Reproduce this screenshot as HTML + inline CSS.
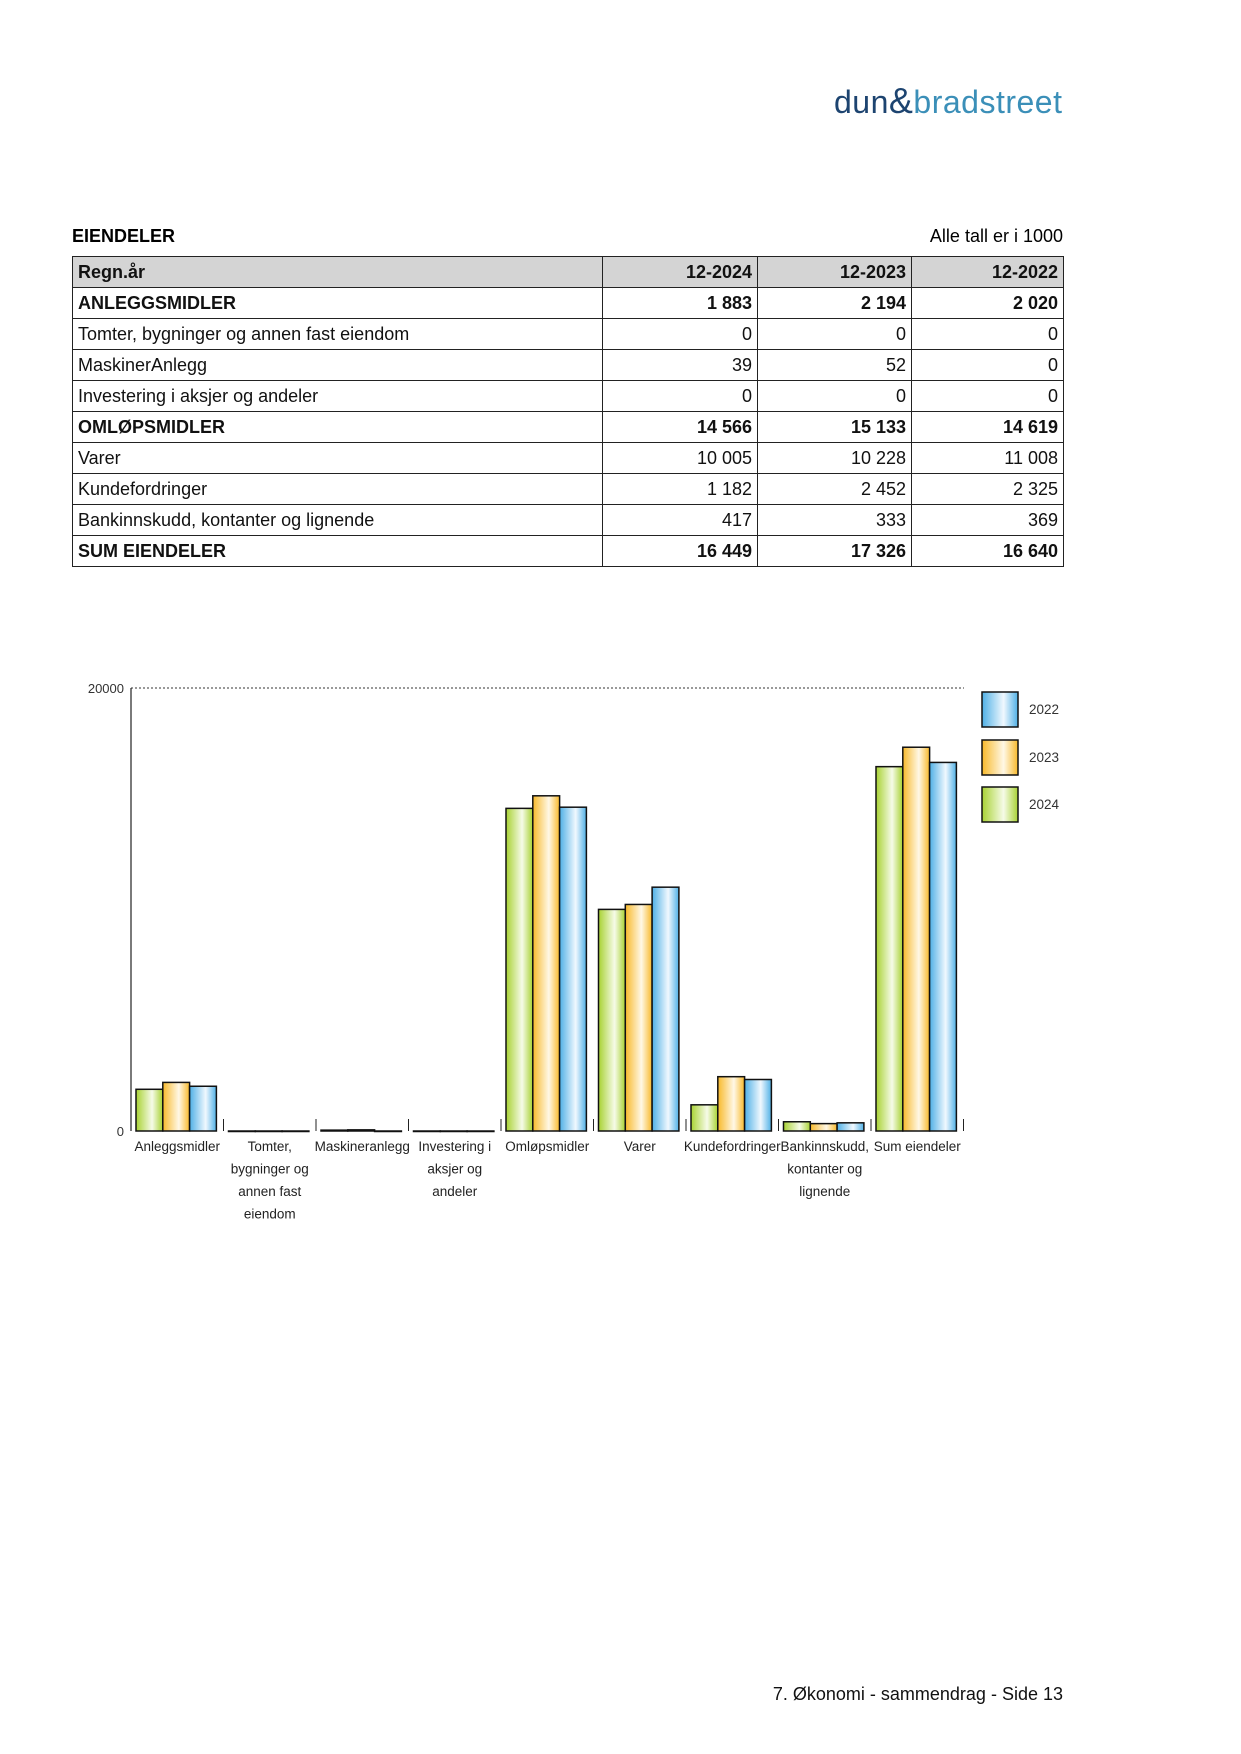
<!DOCTYPE html>
<html><head><meta charset="utf-8"><style>
body{margin:0;width:1241px;height:1754px;background:#fff;font-family:"Liberation Sans",sans-serif;position:relative;overflow:hidden}
.abs{position:absolute}
table{position:absolute;left:72px;top:256px;width:991px;border-collapse:collapse;font-size:18px;color:#111;table-layout:fixed}
td{border:1px solid #222;height:30px;padding:0 5px;line-height:30px}
td.n{text-align:right}
tr.h td{background:#d4d4d4;font-weight:bold}
tr.b td{font-weight:bold}
</style></head><body>
<div class="abs" style="left:834px;top:80px;font-size:32px;letter-spacing:0.5px"><span style="color:#1d4470">dun</span><span style="color:#1d4470;font-size:36px">&amp;</span><span style="color:#3b8fb8">bradstreet</span></div>
<div class="abs" style="left:72px;top:226px;font-size:18px;font-weight:bold">EIENDELER</div>
<div class="abs" style="right:178px;top:226px;font-size:18px">Alle tall er i 1000</div>
<table>
<colgroup><col style="width:530px"><col style="width:155px"><col style="width:154px"><col style="width:152px"></colgroup>
<tr class="h"><td>Regn.år</td><td class="n">12-2024</td><td class="n">12-2023</td><td class="n">12-2022</td></tr>
<tr class="b"><td>ANLEGGSMIDLER</td><td class="n">1 883</td><td class="n">2 194</td><td class="n">2 020</td></tr>
<tr><td>Tomter, bygninger og annen fast eiendom</td><td class="n">0</td><td class="n">0</td><td class="n">0</td></tr>
<tr><td>MaskinerAnlegg</td><td class="n">39</td><td class="n">52</td><td class="n">0</td></tr>
<tr><td>Investering i aksjer og andeler</td><td class="n">0</td><td class="n">0</td><td class="n">0</td></tr>
<tr class="b"><td>OMLØPSMIDLER</td><td class="n">14 566</td><td class="n">15 133</td><td class="n">14 619</td></tr>
<tr><td>Varer</td><td class="n">10 005</td><td class="n">10 228</td><td class="n">11 008</td></tr>
<tr><td>Kundefordringer</td><td class="n">1 182</td><td class="n">2 452</td><td class="n">2 325</td></tr>
<tr><td>Bankinnskudd, kontanter og lignende</td><td class="n">417</td><td class="n">333</td><td class="n">369</td></tr>
<tr class="b"><td>SUM EIENDELER</td><td class="n">16 449</td><td class="n">17 326</td><td class="n">16 640</td></tr>
</table>
<svg class="abs" style="left:0;top:0" width="1241" height="1754" font-family="Liberation Sans, sans-serif">
<defs>
<linearGradient id="g"><stop offset="0" stop-color="#a8d232"/><stop offset="0.6" stop-color="#f6fbe8"/><stop offset="1" stop-color="#a8d232"/></linearGradient>
<linearGradient id="o"><stop offset="0" stop-color="#f8b92a"/><stop offset="0.6" stop-color="#fff8e6"/><stop offset="1" stop-color="#f8b92a"/></linearGradient>
<linearGradient id="b"><stop offset="0" stop-color="#4fb0e6"/><stop offset="0.6" stop-color="#f0f8fe"/><stop offset="1" stop-color="#4fb0e6"/></linearGradient>
</defs>
<line x1="131" y1="688" x2="964" y2="688" stroke="#333" stroke-dasharray="2,2"/>
<line x1="131" y1="688" x2="131" y2="1131" stroke="#222" stroke-width="1.2"/>
<text x="124" y="693" font-size="13" text-anchor="end" fill="#333">20000</text>
<text x="124" y="1136" font-size="13" text-anchor="end" fill="#333">0</text>
<g id="bars" stroke="#111" stroke-width="1.5"></g>
<g id="ticks" stroke="#222"></g>
<g id="labels" font-size="13.5" fill="#222" text-anchor="middle"></g>
<rect x="982" y="692" width="36" height="35" fill="url(#b)" stroke="#111" stroke-width="1.5"/>
<rect x="982" y="740" width="36" height="35" fill="url(#o)" stroke="#111" stroke-width="1.5"/>
<rect x="982" y="787" width="36" height="35" fill="url(#g)" stroke="#111" stroke-width="1.5"/>
<text x="1029" y="714" font-size="13.5" fill="#333">2022</text>
<text x="1029" y="762" font-size="13.5" fill="#333">2023</text>
<text x="1029" y="809" font-size="13.5" fill="#333">2024</text>
</svg>
<div class="abs" style="right:178px;top:1684px;font-size:18px;color:#111">7. Økonomi - sammendrag - Side 13</div>
<script>
var d=[[1883,2194,2020],[0,0,0],[39,52,0],[0,0,0],[14566,15133,14619],[10005,10228,11008],[1182,2452,2325],[417,333,369],[16449,17326,16640]];
var L=[["Anleggsmidler"],["Tomter,","bygninger og","annen fast","eiendom"],["Maskineranlegg"],["Investering i","aksjer og","andeler"],["Omløpsmidler"],["Varer"],["Kundefordringer"],["Bankinnskudd,","kontanter og","lignende"],["Sum eiendeler"]];
var ns="http://www.w3.org/2000/svg",bg=document.getElementById("bars"),tg=document.getElementById("ticks"),lg=document.getElementById("labels");
var f=["url(#g)","url(#o)","url(#b)"],gw=92.5,bw=26.8,base=1131,sc=443/20000;
for(var i=0;i<9;i++){var x0=131+i*gw;
 for(var j=0;j<3;j++){var h=d[i][j]*sc;var r=document.createElementNS(ns,"rect");
  r.setAttribute("x",x0+5+j*bw);r.setAttribute("width",bw);r.setAttribute("y",base-h);r.setAttribute("height",Math.max(h,0.5));r.setAttribute("fill",f[j]);bg.appendChild(r);}
 var t=document.createElementNS(ns,"line");t.setAttribute("x1",x0+gw);t.setAttribute("x2",x0+gw);t.setAttribute("y1",base-12);t.setAttribute("y2",base);tg.appendChild(t);
 for(var k=0;k<L[i].length;k++){var tx=document.createElementNS(ns,"text");tx.setAttribute("x",x0+gw/2);tx.setAttribute("y",1151+k*22.5);tx.textContent=L[i][k];lg.appendChild(tx);}
}
</script>
</body></html>
